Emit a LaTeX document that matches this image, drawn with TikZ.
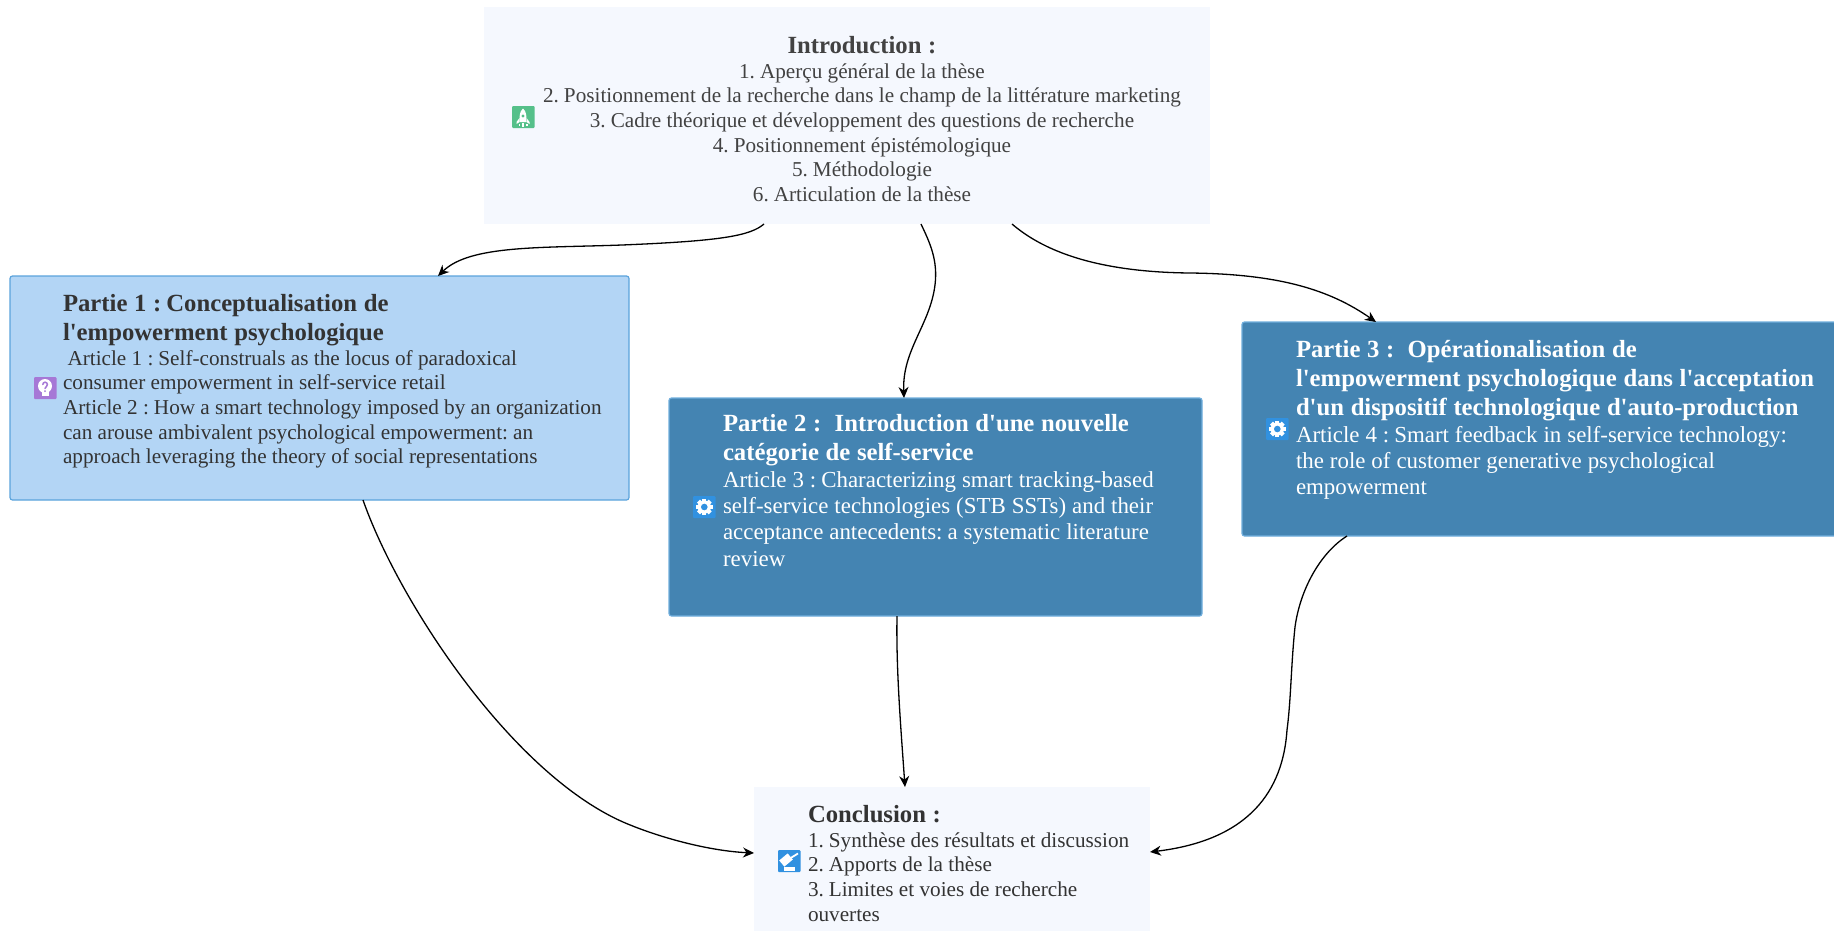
\documentclass[tikz,border=0pt]{standalone}
\usepackage{fontspec}
\setmainfont{Liberation Serif}[Ligatures=TeXOff]
\usetikzlibrary{calc,arrows.meta}
\definecolor{softbg}{HTML}{F5F8FE}
\definecolor{lightblue}{HTML}{B3D5F5}
\definecolor{lightedge}{HTML}{5BA3DC}
\definecolor{steelbox}{HTML}{4484B2}
\definecolor{steeledge}{HTML}{70AEDD}
\definecolor{darktxt}{HTML}{333333}
\definecolor{greytxt}{HTML}{424242}
\definecolor{icongreen}{HTML}{55C08A}
\definecolor{iconpurple}{HTML}{A678D6}
\definecolor{iconblue}{HTML}{3191E0}
\newcommand{\hdfont}{\fontsize{24.7}{29}\selectfont\bfseries\spaceskip=.27em\relax}
\newcommand{\bdfont}{\fontsize{21.2}{24.6}\selectfont\spaceskip=.25em\relax}
\newcommand{\bgfont}{\fontsize{22.9}{26.4}\selectfont\spaceskip=.26em\relax}
\tikzset{
  softbox/.style={rectangle,fill=softbg,draw=none,inner sep=0pt,outer sep=0pt,anchor=north west},
  lightpanel/.style={rectangle,rounded corners=2.5pt,fill=lightblue,draw=lightedge,line width=1.2pt,inner sep=0pt,outer sep=0pt,anchor=north west},
  steelpanel/.style={rectangle,rounded corners=2.5pt,fill=steelbox,draw=steeledge,line width=1.2pt,inner sep=0pt,outer sep=0pt,anchor=north west},
  lefttext/.style={anchor=north west,inner sep=0pt,outer sep=0pt,align=left,text width=#1},
  centertext/.style={anchor=north west,inner sep=0pt,outer sep=0pt,align=center,text width=#1},
  iconbox/.style={rectangle,rounded corners=1pt,draw=none,fill=#1,inner sep=0pt,outer sep=0pt,minimum width=22.5pt,minimum height=22pt,anchor=north west},
  link/.style={draw=black,line width=1.3pt,-{Stealth[length=11pt,width=10pt]}},
}
\newcommand{\geardraw}[2]{%
  \begin{scope}[shift={(#1,#2)}]
    \foreach \a in {0,45,...,315}{\fill[white,rotate=\a] (-2.1,-8.3) rectangle (2.1,0);}
    \fill[white] (0,0) circle [radius=6.6pt];
    \fill[iconblue] (0,0) circle [radius=3.3pt];
  \end{scope}}
\begin{document}
\begin{tikzpicture}[x=1pt,y=-1pt]
\useasboundingbox (0,0) rectangle (1834,930);
\fill[white] (0,0) rectangle (1834,930);
% boxes
\node[softbox,minimum width=726pt,minimum height=217pt] (intro) at (484,7) {};
\node[lightpanel,minimum width=619pt,minimum height=224pt] (p1) at (10,276) {};
\node[steelpanel,minimum width=533pt,minimum height=218pt] (p2) at (669,398) {};
\node[steelpanel,minimum width=640pt,minimum height=214pt] (p3) at (1242,322) {};
\node[softbox,minimum width=396pt,minimum height=150pt] (concl) at (754,787) {};
% texts
\node[centertext=726pt,text=greytxt] (introtext) at (499,36.5) {%
  {\hdfont Introduction :\par}
  {\bdfont 1. Aperçu général de la thèse\\
  2. Positionnement de la recherche dans le champ de la littérature marketing\\
  3. Cadre théorique et développement des questions de recherche\\
  4. Positionnement épistémologique\\
  5. Méthodologie\\
  6. Articulation de la thèse\par}};
\node[lefttext=560pt,text=darktxt] (p1text) at (63,294.5) {%
  {\hdfont Partie 1 : Conceptualisation de\\
  l'empowerment psychologique\par}
  {\bdfont \hspace*{4.5pt}Article 1 : Self-construals as the locus of paradoxical\\
  consumer empowerment in self-service retail\\
  Article 2 : How a smart technology imposed by an organization\\
  can arouse ambivalent psychological empowerment: an\\
  approach leveraging the theory of social representations\par}};
\node[lefttext=500pt,text=white] (p2text) at (723,414.5) {%
  {\hdfont Partie 2 :\ \ Introduction d'une nouvelle\\
  catégorie de self-service\par}
  {\bgfont Article 3 : Characterizing smart tracking-based\\
  self-service technologies (STB SSTs) and their\\
  acceptance antecedents: a systematic literature\\
  review\par}};
\node[lefttext=580pt,text=white] (p3text) at (1296,340.5) {%
  {\hdfont Partie 3 :\ \ Opérationalisation de\\
  l'empowerment psychologique dans l'acceptation\\
  d'un dispositif technologique d'auto-production\par}
  {\bgfont Article 4 : Smart feedback in self-service technology:\\
  the role of customer generative psychological\\
  empowerment\par}};
\node[lefttext=370pt,text=darktxt] (concltext) at (808,805.5) {%
  {\hdfont Conclusion :\par}
  {\bdfont 1. Synthèse des résultats et discussion\\
  2. Apports de la thèse\\
  3. Limites et voies de recherche\\
  ouvertes\par}};
% icons
\node[iconbox=icongreen] (icA) at (512,106) {};
\fill[white] (523,108.5) .. controls (519.5,112) and (519.5,115) .. (519.5,122) -- (526.5,122) .. controls (526.5,115) and (526.5,112) .. (523,108.5) -- cycle;
\fill[white] (519.5,118) -- (516.5,122) -- (516.5,124) -- (519.5,122) -- cycle;
\fill[white] (526.5,118) -- (529.5,122) -- (529.5,124) -- (526.5,122) -- cycle;
\fill[icongreen] (523,116) circle [radius=1.7pt];
\fill[white] (522.3,123) rectangle (523.7,126.5);
\fill[white] (518.5,123.5) rectangle (519.7,126);
\fill[white] (526.3,123.5) rectangle (527.5,126);
\node[iconbox=iconpurple] (icB) at (34,377) {};
\fill[white] (45,386) circle [radius=7pt];
\fill[white] (41.5,390) rectangle (48.5,396);
\draw[iconpurple,line width=1.5pt,line cap=round] (42.8,384.5) arc [start angle=180,end angle=-50,radius=2.3pt] -- (45,388.5);
\fill[iconpurple] (45,391) circle [radius=1pt];
\node[iconbox=iconblue] (icC) at (693,496) {};
\geardraw{704.3}{507}
\node[iconbox=iconblue] (icD) at (1266,418) {};
\geardraw{1277.3}{429}
\node[iconbox=iconblue] (icE) at (778,850) {};
\fill[white,rotate around={40:(786,860)}] (780.5,856) rectangle (791.5,864);
\draw[white,line width=1.8pt] (789,859) -- (798,853.5);
\fill[white] (783.5,867) rectangle (795,870.5);
% connectors
\draw[link] ($(intro.south west)+(280,0)$) .. controls (750,236) and (720,241) .. (622,245) .. controls (540,248) and (470,245) .. ($(p1.north west)+(428,0)$);
\draw[link] ($(intro.south west)+(437,0)$) .. controls (930,243) and (938,260) .. (935,285) .. controls (930,325) and (902,350) .. ($(p2.north west)+(235,0)$);
\draw[link] ($(intro.south west)+(528,0)$) .. controls (1040,248) and (1090,272) .. (1190,273) .. controls (1280,274) and (1330,290) .. ($(p3.north west)+(134,0)$);
\draw[link] ($(p1.south west)+(353,0)$) .. controls (398,600) and (510,772) .. (623,822) .. controls (660,838) and (710,851) .. ($(concl.north west)+(0,66)$);
\draw[link] ($(p2.south west)+(228,0)$) .. controls (896,670) and (901,730) .. ($(concl.north west)+(151,0)$);
\draw[link] ($(p3.south west)+(105,0)$) .. controls (1320,553) and (1300,590) .. (1295,627) .. controls (1291,665) and (1291,700) .. (1287,730) .. controls (1283,790) and (1250,840) .. ($(concl.north east)+(0,65)$);
\end{tikzpicture}
\end{document}
